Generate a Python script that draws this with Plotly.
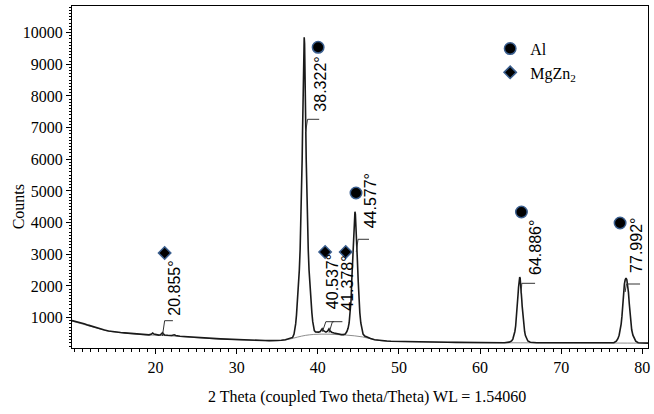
import plotly.graph_objects as go

# Measured diffraction pattern: 2-theta (deg) and intensity (counts)
two_theta = [
    9.7, 10.2, 10.7, 11.2, 11.7, 12.2, 12.7, 13.2, 13.7, 14.2, 14.7, 15.2, 15.7, 16.2, 16.7,
    17.2, 17.7, 18.2, 18.7, 19.2, 19.5, 19.65, 19.8, 20.1, 20.4, 20.6, 20.75, 20.855, 20.95,
    21.1, 21.5, 22.0, 22.3, 22.5, 23.0, 23.5, 24.0, 24.5, 25.0, 25.5, 26.0, 26.5, 27.0, 27.5,
    28.0, 28.5, 29.0, 29.5, 30.0, 30.5, 31.0, 31.5, 32.0, 32.5, 33.0, 33.5, 34.0, 34.5, 35.0,
    35.5, 36.0, 36.5, 36.9,
    37.07, 37.17, 37.27, 37.37, 37.50, 37.62, 37.72, 37.82, 37.92, 38.02, 38.07, 38.12, 38.17,
    38.22, 38.27, 38.322, 38.37, 38.42, 38.47, 38.52, 38.57, 38.62, 38.72, 38.82, 38.92, 39.02,
    39.14, 39.27, 39.37, 39.47, 39.57, 39.72, 39.9, 40.1, 40.3, 40.45, 40.537, 40.65, 40.8,
    41.0, 41.2, 41.378, 41.5, 41.7, 42.0, 42.3, 42.6, 42.9, 43.15, 43.38, 43.58, 43.73, 43.86,
    43.98, 44.1, 44.18, 44.28, 44.33, 44.38, 44.43, 44.48, 44.53, 44.577, 44.63, 44.68, 44.73,
    44.78, 44.83, 44.88, 44.98, 45.06, 45.18, 45.3, 45.43, 45.58, 45.78, 46.0, 46.5, 47.0,
    47.5, 48.0, 48.5, 49.0, 49.5, 50.0, 50.5, 51.0, 51.5, 52.0, 52.5, 53.0, 54.0, 55.0, 56.0,
    57.0, 58.0, 59.0, 60.0, 61.0, 62.0, 63.0, 63.59, 63.89, 64.04, 64.19, 64.29, 64.39, 64.49,
    64.59, 64.64, 64.69, 64.74, 64.79, 64.84, 64.886, 64.94, 64.99, 65.04, 65.09, 65.14, 65.19,
    65.29, 65.39, 65.49, 65.59, 65.74, 65.89, 66.19, 66.6, 67.0, 68.0, 69.0, 70.0, 71.0, 72.0,
    73.0, 74.0, 75.0, 76.0, 76.49, 76.79, 76.99, 77.14, 77.29, 77.39, 77.49, 77.59, 77.69,
    77.79, 77.89, 77.992, 78.09, 78.19, 78.29, 78.39, 78.49, 78.59, 78.69, 78.84, 78.99, 79.19,
    79.49, 80.0, 80.7,
]
counts = [
    905, 878, 848, 805, 762, 718, 680, 643, 610, 578, 556, 541, 530, 519, 506,
    492, 481, 467, 458, 456, 478, 515, 482, 452, 446, 456, 490, 522, 488,
    452, 441, 436, 458, 436, 412, 401, 390, 381, 371, 364, 356, 347, 341, 335,
    329, 322, 317, 311, 305, 301, 296, 291, 287, 283, 279, 275, 273, 272, 276,
    285, 303, 332, 375,
    480, 620, 800, 1080, 1556, 2000, 2500, 3150, 4100, 5260, 6000, 6900, 8150,
    9050, 9650, 9850, 9650, 9050, 8150, 6900, 6000, 5260, 4100, 3150, 2500, 2000,
    1556, 1150, 880, 700, 590, 545, 532, 540, 560, 600, 645, 592, 560,
    540, 572, 642, 582, 540, 512, 492, 474, 462, 462, 478, 560, 660, 830,
    1150, 1556, 2150, 2800, 3150, 3380, 3700, 4050, 4270, 4344, 4270, 4050, 3700,
    3380, 3150, 2800, 2150, 1556, 1150, 830, 610, 480, 420, 388, 338, 302,
    281, 267, 259, 253, 249, 246, 243, 240, 238, 236, 234, 232, 228, 225, 222,
    219, 216, 214, 212, 210, 208, 207, 225, 262, 322, 432, 562, 742, 1002,
    1362, 1562, 1762, 1952, 2122, 2242, 2282, 2242, 2122, 1952, 1762, 1562, 1362,
    1002, 742, 562, 432, 322, 262, 222, 210, 207, 205, 204, 203, 202, 201,
    200, 199, 198, 197, 205, 255, 335, 445, 615, 795, 1045, 1445, 1795,
    2055, 2195, 2250, 2195, 2055, 1795, 1445, 1045, 795, 615, 445, 335, 255,
    205, 196, 194,
]

# Fitted background under the pattern
bg_theta = [9.7, 11.0, 12.5, 14.0, 15.5, 17.0, 19.0, 21.0, 23.0, 25.0, 27.0, 29.0, 31.0, 33.0,
            34.5, 35.5, 36.5, 37.5, 38.5, 39.5, 40.5, 41.5, 42.5, 43.5, 44.5, 45.5, 46.5,
            47.5, 48.5, 50.0, 55.0, 60.0, 63.5, 66.5, 70.0, 76.5, 79.5, 80.7]
bg_counts = [890, 795, 690, 585, 528, 492, 452, 435, 405, 366, 336, 313, 292, 275,
             268, 278, 318, 385, 440, 468, 478, 475, 462, 448, 425, 390, 332,
             279, 257, 244, 223, 210, 205, 203, 201, 196, 194, 192]

# Indexed reflections (2-theta, deg)
peak_pos = [20.855, 38.322, 40.537, 41.378, 44.577, 64.886, 77.992]

# Phase symbols placed above the reflections
al_sym_x = [40.04, 44.71, 65.10, 77.26]
al_sym_y = [9536, 4935, 4335, 3988]
mg_sym_x = [21.12, 40.90, 43.44]
mg_sym_y = [3040, 3072, 3072]

# Label placement (text centre x, text start y) and leader hooks
label_x = [22.23, 40.29, 41.76, 43.64, 46.43, 66.86, 79.27]
label_y = [1000, 7430, 1190, 1150, 3770, 2290, 2345]
leader_start_y = [419, 6861, 555, 523, 3081, 1767, 1808]
leader_start_dx = [-0.01, 0.18, 0.03, 0.01, 0.17, 0.18, -0.11]
leader_corner_x = [21.12, 38.73, 40.99, 41.80, 44.96, 65.14, 78.04]
leader_corner_y = [902, 7262, 871, 871, 3473, 2083, 2061]
leader_end_x = [22.14, 40.17, 42.01, 43.03, 46.31, 66.78, 79.72]

SERIF = "Liberation Serif"
SANS = "Liberation Sans"

fig = go.Figure()

fig.add_trace(go.Scatter(x=bg_theta, y=bg_counts, mode="lines",
                         line=dict(color="#707070", width=0.8, shape="spline"),
                         showlegend=False, hoverinfo="skip"))
fig.add_trace(go.Scatter(x=two_theta, y=counts, mode="lines",
                         line=dict(color="#1a1a1a", width=1.6),
                         showlegend=False))

fig.add_trace(go.Scatter(x=al_sym_x, y=al_sym_y, mode="markers", name="Al",
                         marker=dict(symbol="circle", size=11.5, color="black",
                                     line=dict(color="#3b5f8f", width=1.5))))
fig.add_trace(go.Scatter(x=mg_sym_x, y=mg_sym_y, mode="markers", name="MgZn<sub>2</sub>",
                         marker=dict(symbol="diamond", size=9.5, color="black",
                                     line=dict(color="#3b5f8f", width=1.5))))

for i, p in enumerate(peak_pos):
    fig.add_annotation(x=label_x[i], y=label_y[i], text=f"{p:.3f}°", textangle=-90,
                       showarrow=False, xanchor="center", yanchor="bottom",
                       font=dict(family=SANS, size=16, color="black"))
    path = (f"M {p + leader_start_dx[i]},{leader_start_y[i]} "
            f"L {leader_corner_x[i]},{leader_corner_y[i]} "
            f"L {leader_end_x[i]},{leader_corner_y[i]}")
    fig.add_shape(type="path", path=path, xref="x", yref="y",
                  line=dict(color="#333333", width=1))

fig.add_annotation(text="Counts", x=-0.0934, y=0.412, xref="paper", yref="paper",
                   textangle=-90, showarrow=False, xanchor="center", yanchor="middle",
                   font=dict(family=SERIF, size=16, color="black"))
fig.add_annotation(text="2 Theta (coupled Two theta/Theta) WL = 1.54060",
                   x=0.512, y=-0.143, xref="paper", yref="paper", showarrow=False,
                   xanchor="center", yanchor="middle",
                   font=dict(family=SERIF, size=16, color="black"))

fig.update_xaxes(range=[9.7, 80.7], tickmode="array", tickvals=[20, 30, 40, 50, 60, 70, 80],
                 ticks="outside", ticklen=5, tickwidth=1, tickcolor="black",
                 showline=True, linecolor="black", linewidth=1, mirror=True,
                 showgrid=False, zeroline=False,
                 tickfont=dict(family=SERIF, size=16, color="black"),
                 minor=dict(tickmode="linear", tick0=10, dtick=1, ticks="outside",
                            ticklen=3, tickcolor="black", showgrid=False))
fig.update_yaxes(range=[40, 10840], tickmode="linear", tick0=0, dtick=1000,
                 tickformat="d",
                 ticks="outside", ticklen=5, tickwidth=1, tickcolor="black",
                 showline=True, linecolor="black", linewidth=1, mirror=True,
                 showgrid=False, zeroline=False,
                 tickfont=dict(family=SERIF, size=16, color="black"),
                 minor=dict(tickmode="linear", tick0=0, dtick=100, ticks="outside",
                            ticklen=2, tickcolor="black", showgrid=False))

fig.update_layout(
    width=654, height=414,
    margin=dict(l=72, r=4, t=6, b=66),
    paper_bgcolor="white", plot_bgcolor="white",
    font=dict(family=SERIF, size=16, color="black"),
    legend=dict(x=0.726, y=0.925, xanchor="left", yanchor="top",
                font=dict(family=SERIF, size=16, color="black"),
                bgcolor="rgba(0,0,0,0)", tracegroupgap=0),
)

fig.write_html("out.html")
